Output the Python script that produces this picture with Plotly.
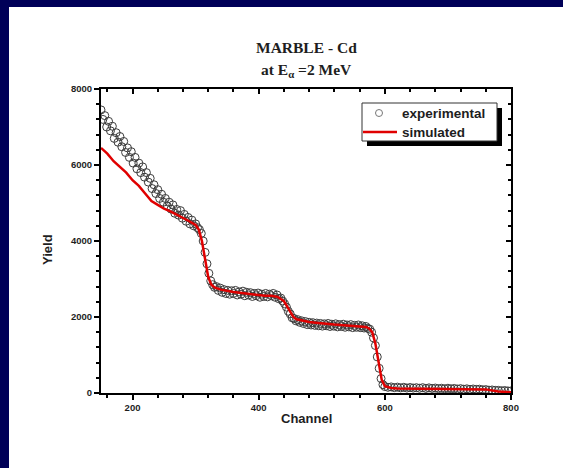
import plotly.graph_objects as go

# ---- data ----
exp_channel = list(range(150, 600, 3)) + list(range(600, 805, 5))
exp_yield = [
    # 150 .. 297 (step 3)
    7450, 7200, 7300, 7000, 7150, 6900, 7020, 6700, 6850, 6600,
    6750, 6480, 6620, 6330, 6450, 6200, 6350, 6050, 6200, 5900,
    6050, 5800, 5950, 5680, 5800, 5550, 5650, 5380, 5480, 5250,
    5350, 5120, 5230, 5020, 5120, 4920, 5020, 4840, 4950, 4730,
    4830, 4680, 4800, 4600, 4700, 4520, 4620, 4450, 4550, 4400,
    # 300 .. 336
    4450, 4350, 4300, 4200, 4000, 3700, 3400, 3150, 2950, 2850,
    2780, 2800, 2700,
    # 339 .. 438
    2760, 2650, 2720, 2620, 2700, 2600, 2690, 2620, 2700, 2580,
    2660, 2600, 2680, 2560, 2650, 2580, 2640, 2540, 2620, 2560,
    2630, 2520, 2600, 2540, 2620, 2530, 2600, 2560, 2620, 2520,
    2580, 2480, 2500, 2420,
    # 441 .. 468
    2350, 2260, 2150, 2080, 1980, 1960, 1900, 1930, 1860, 1900,
    # 471 .. 576
    1830, 1880, 1800, 1860, 1790, 1850, 1780, 1840, 1770, 1830,
    1760, 1820, 1770, 1830, 1750, 1810, 1760, 1820, 1740, 1800,
    1750, 1810, 1730, 1790, 1740, 1800, 1720, 1780, 1730, 1790,
    1720, 1770, 1710, 1750, 1700, 1680,
    # 579 .. 597
    1600, 1450, 1250, 950, 650, 380, 220,
    # 600 .. 800 (step 5)
    170, 150, 160, 140, 155, 135, 150, 130, 145, 130,
    140, 125, 140, 120, 135, 120, 130, 115, 125, 110,
    125, 110, 120, 105, 115, 100, 110, 95, 105, 95,
    100, 85, 90, 75, 80, 70, 70, 60, 65, 55,
    55,
]
sim_channel = [150, 160, 170, 180, 190, 200, 210, 220, 230, 240, 250, 260, 270, 280,
               290, 300, 305, 310, 315, 320, 325, 330, 340, 350, 360, 370, 380, 390,
               400, 410, 420, 430, 440, 445, 450, 455, 460, 470, 480, 490, 500, 510,
               520, 530, 540, 550, 560, 570, 575, 580, 585, 590, 595, 600, 610, 620,
               640, 660, 680, 700, 720, 740, 760, 780, 800]
sim_yield = [6450, 6300, 6100, 5950, 5800, 5600, 5450, 5250, 5050, 4950, 4850, 4780, 4700, 4620,
             4520, 4420, 4300, 4000, 3500, 3050, 2850, 2780, 2720, 2680, 2660, 2640, 2620, 2600,
             2580, 2560, 2560, 2530, 2420, 2280, 2120, 2000, 1940, 1900, 1870, 1850, 1830, 1810,
             1800, 1790, 1780, 1770, 1760, 1740, 1700, 1600, 1300, 800, 350, 180, 130, 120,
             115, 110, 110, 105, 100, 100, 95, 40, 20]
legend_labels = ["experimental", "simulated"]

x_range = [150, 800]
y_range = [0, 8000]

NAVY = "#000058"
TXT = "#1e1e1e"
SANS = "Liberation Sans, Arial, sans-serif"
SERIF = "Liberation Serif, Times New Roman, serif"
EXP_COLOR = "#3c3c3c"
SIM_COLOR = "#e00000"

fig = go.Figure()
fig.add_trace(go.Scatter(
    x=exp_channel, y=exp_yield, mode="markers", name=legend_labels[0], showlegend=False,
    marker=dict(symbol="circle-open", size=8, color=EXP_COLOR, line=dict(width=1)),
))
fig.add_trace(go.Scatter(
    x=sim_channel, y=sim_yield, mode="lines", name=legend_labels[1], showlegend=False,
    line=dict(color=SIM_COLOR, width=2.5),
))
# empty trace hosting the mirrored axes with inward ticks
fig.add_trace(go.Scatter(x=[], y=[], xaxis="x2", yaxis="y2", showlegend=False))

W, H = 563, 468
L, R, T, B = 101, 52, 89, 75
pw, ph = W - L - R, H - T - B


def px(xp):
    return (xp - L) / pw


def py(yp):
    return (H - B - yp) / ph


axis_common = dict(showgrid=False, zeroline=False, linecolor="black", linewidth=2,
                   tickcolor="black", tickwidth=1.5)
tickfont = dict(family=SANS, size=9.5, color=TXT, weight="bold")
titlefont = dict(family=SANS, size=13, color=TXT, weight="bold")
legfont = dict(family=SANS, size=13.5, color=TXT, weight="bold")

shapes = [
    # navy frame (top and left strips)
    dict(type="rect", xref="paper", yref="paper", x0=px(-5), x1=px(W + 5), y0=py(7), y1=py(-5),
         fillcolor=NAVY, line=dict(width=0), layer="above"),
    dict(type="rect", xref="paper", yref="paper", x0=px(-5), x1=px(9), y0=py(H + 5), y1=py(-5),
         fillcolor=NAVY, line=dict(width=0), layer="above"),
    # legend shadow and box
    dict(type="rect", xref="paper", yref="paper", x0=px(367), x1=px(502), y0=py(108), y1=py(146),
         fillcolor="black", line=dict(width=0), layer="above"),
    dict(type="rect", xref="paper", yref="paper", x0=px(362), x1=px(497), y0=py(103), y1=py(141),
         fillcolor="white", line=dict(color="#333", width=1), layer="above"),
    # legend symbols
    dict(type="circle", xref="paper", yref="paper", x0=px(375.5), x1=px(382.5), y0=py(109.5), y1=py(116.5),
         fillcolor="rgba(0,0,0,0)", line=dict(color="#777", width=1), layer="above"),
    dict(type="line", xref="paper", yref="paper", x0=px(363), x1=px(397), y0=py(132), y1=py(132),
         line=dict(color=SIM_COLOR, width=2.5), layer="above"),
]

annotations = [
    dict(text="MARBLE - Cd", xref="paper", yref="paper", x=0.5, y=py(48), showarrow=False,
         xanchor="center", yanchor="middle", font=dict(family=SERIF, size=15.5, color=TXT, weight="bold")),
    dict(text="at E<sub>α</sub> =2 MeV", xref="paper", yref="paper", x=0.5, y=py(70), showarrow=False,
         xanchor="center", yanchor="middle", font=dict(family=SERIF, size=15.5, color=TXT, weight="bold")),
    dict(text=legend_labels[0], xref="paper", yref="paper", x=px(400), y=py(113), showarrow=False,
         xanchor="left", yanchor="middle", font=legfont),
    dict(text=legend_labels[1], xref="paper", yref="paper", x=px(400), y=py(132), showarrow=False,
         xanchor="left", yanchor="middle", font=legfont),
    dict(text="Channel", xref="paper", yref="paper", x=px(306), y=py(418), showarrow=False,
         xanchor="center", yanchor="middle", font=titlefont),
    dict(text="Yield", xref="paper", yref="paper", x=px(47), y=py(250), showarrow=False, textangle=-90,
         xanchor="center", yanchor="middle", font=titlefont),
]

fig.update_layout(
    width=W, height=H,
    margin=dict(l=L, r=R, t=T, b=B),
    paper_bgcolor="white", plot_bgcolor="white",
    showlegend=False,
    xaxis=dict(range=x_range, dtick=200, tick0=0, ticks="outside", ticklen=5,
               minor=dict(dtick=40, tick0=0, ticks="outside", ticklen=3, tickcolor="black", tickwidth=1.5),
               mirror=True, tickfont=tickfont, **axis_common),
    yaxis=dict(range=y_range, dtick=2000, tick0=0, ticks="outside", ticklen=5,
               minor=dict(dtick=400, tick0=0, ticks="outside", ticklen=3, tickcolor="black", tickwidth=1.5),
               mirror=True, tickfont=tickfont, **axis_common),
    xaxis2=dict(range=x_range, overlaying="x", side="top", dtick=200, tick0=0, ticks="inside", ticklen=5,
                minor=dict(dtick=40, tick0=0, ticks="inside", ticklen=3, tickcolor="black", tickwidth=1.5),
                showticklabels=False, **axis_common),
    yaxis2=dict(range=y_range, overlaying="y", side="right", dtick=2000, tick0=0, ticks="inside", ticklen=5,
                minor=dict(dtick=400, tick0=0, ticks="inside", ticklen=3, tickcolor="black", tickwidth=1.5),
                showticklabels=False, **axis_common),
    shapes=shapes,
    annotations=annotations,
)

fig.write_html("out.html")
